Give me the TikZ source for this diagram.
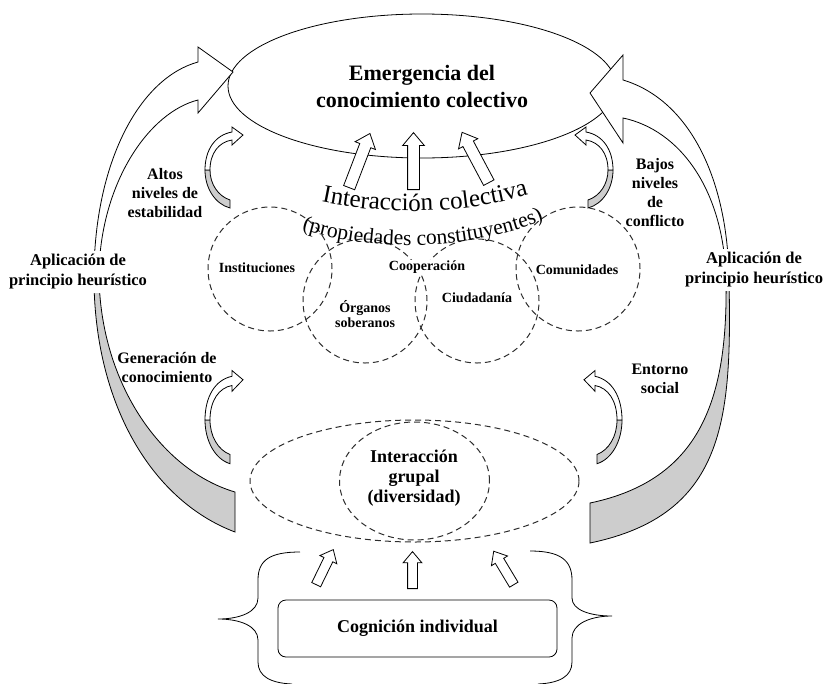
\documentclass[tikz,border=0pt]{standalone}
\usepackage{fontspec}
\setmainfont{Liberation Serif}
\usepackage{tikz}
\usetikzlibrary{shapes.geometric,shapes.arrows,decorations.text,positioning}
\definecolor{cBand}{RGB}{205,205,205}
\definecolor{cDash}{RGB}{45,45,45}
\tikzset{
  lbl/.style={font=\bfseries\fontsize{16}{19}\selectfont, align=center, inner sep=2pt},
  sml/.style={font=\bfseries\fontsize{14}{15.5}\selectfont, align=center, inner sep=1pt},
  big/.style={font=\bfseries\fontsize{18}{20}\selectfont, align=center},
  circ/.style={circle, draw=cDash, line width=1pt, dash pattern=on 6pt off 4pt,
               minimum size=124pt, inner sep=0pt},
  oval/.style={ellipse, draw=cDash, line width=1pt, dash pattern=on 6pt off 4pt,
               inner sep=0pt},
  hol/.style={single arrow, draw, fill=white, line width=0.8pt, inner xsep=0pt,
              inner ysep=5.5pt, single arrow head extend=5pt,
              single arrow tip angle=80, anchor=tail},
  bandw/.style={draw, fill=white, line width=0.8pt},
  bandg/.style={draw, fill=cBand, line width=0.8pt},
  loopar/.pic={
    % back half (grey)
    \path[bandg] (-5,38) .. controls (-20,34) and (-30,18) .. (-30,0)
      -- (-25,0) .. controls (-25,14) and (-17,26) .. (-5,30) -- cycle;
    % front half with head
    \path[bandw] (-30,0) .. controls (-30,-20) and (-20,-35) .. (-3,-38)
      -- (-3,-43) -- (8,-35) -- (-3,-25) -- (-3,-30)
      .. controls (-16,-28) and (-25,-17) .. (-25,0) -- cycle;
  },
}

\begin{document}
\begin{tikzpicture}[x=1pt, y=-1pt]
\useasboundingbox (0,0) rectangle (824,683);

% emergence
\node[ellipse, draw, line width=0.8pt, fill=white, minimum width=388pt, minimum height=144pt,
      font=\bfseries\fontsize{22}{27}\selectfont, align=center] (emer) at (422,86)
  {Emergencia del\\conocimiento colectivo};

% big side arrows
\path[bandw] (94,270) .. controls (96,160) and (140,78) .. (198,62) -- (198,47) -- (233,72)
  -- (198,113) -- (198,100) .. controls (150,112) and (102,180) .. (99,270) -- cycle;
\path[bandg] (94,270) .. controls (92,400) and (150,500) .. (235,532) -- (235,492)
  .. controls (160,470) and (98,380) .. (99,270) -- cycle;
\path[bandw] (729,280) .. controls (728,180) and (690,100) .. (623,80) -- (623,55) -- (590,93)
  -- (623,143) -- (623,118) .. controls (680,130) and (724,190) .. (726,280) -- cycle;
\path[bandg] (729,280) .. controls (732,420) and (725,515) .. (590,543) -- (590,503)
  .. controls (700,480) and (728,400) .. (726,280) -- cycle;
\node[lbl, fill=white, inner sep=4pt, font=\bfseries\fontsize{16.5}{20}\selectfont]
  (aplL) at (78,272) {Aplicación de\\principio heurístico};
\node[lbl, fill=white, inner sep=4pt, font=\bfseries\fontsize{16.5}{20}\selectfont]
  (aplR) at (754,270) {Aplicación de\\principio heurístico};

% collective level
\node[circ] (inst) at (270,269) {};
\node[circ] (org) at (365,301) {};
\node[circ] (ciu) at (477,301) {};
\node[circ] (com) at (578,269) {};
\node[sml] (tinst) at (257,268) {Instituciones};
\node[sml, fill=white] (tcoop) at (427,267) {Cooperación};
\node[sml] (torg) at (365,314) {Órganos\\soberanos};
\node[sml] (tciu) at (477,298) {Ciudadanía};
\node[sml] (tcom) at (577,270) {Comunidades};
\path[decorate, decoration={text along path, text align=center,
    text={|\fontsize{25}{25}\selectfont|Interacción colectiva}}]
  (322,202) .. controls (385,215) and (460,215) .. (528,195);
\path[decorate, decoration={text along path, text align=center,
    text={|\fontsize{21.5}{22}\selectfont|(propiedades constituyentes)}}]
  (285,224) .. controls (365,254) and (475,254) .. (560,213);

\node[hol, minimum height=58pt, rotate=69] (a1) at (349,188) {};
\node[hol, minimum height=57pt, rotate=90] (a2) at (413.5,190) {};
\node[hol, minimum height=57pt, rotate=118] (a3) at (489,183) {};

% feedback loops
\pic at (235,170) {loopar};
\pic[xscale=-1] at (583,170) {loopar};
\pic[yscale=1.15] at (235,420) {loopar};
\pic[xscale=-1, yscale=1.15] at (592,420) {loopar};
\node[lbl] (altos) at (165,193) {Altos\\niveles de\\estabilidad};
\node[lbl] (bajos) at (655,193) {Bajos\\niveles\\de\\conflicto};
\node[lbl] (gen) at (167,368) {Generación de\\conocimiento};
\node[lbl] (ent) at (660,379) {Entorno\\social};

% group level
\node[oval, minimum width=329pt, minimum height=122pt] (grp) at (414.5,481) {};
\node[oval, minimum width=150pt, minimum height=118pt] (div) at (414.5,481) {};
\node[big] (tdiv) at (414,478) {Interacción\\grupal\\(diversidad)};

\node[hol, minimum height=39pt, inner ysep=4.5pt, single arrow head extend=4.5pt,
      rotate=64] (b1) at (316,585) {};
\node[hol, minimum height=37pt, inner ysep=4.5pt, single arrow head extend=4.5pt,
      rotate=90] (b2) at (412.5,589) {};
\node[hol, minimum height=39pt, inner ysep=4.5pt, single arrow head extend=4.5pt,
      rotate=121] (b3) at (514,585) {};

% individual level
\node[big, draw, line width=0.8pt, rounded corners=8pt, minimum width=279pt,
      minimum height=57pt] (cog) at (417.5,628.5) {Cognición individual};
\draw[line width=0.8pt] (300,552) .. controls (270,552) and (258,560) .. (258,580)
  -- (258,598) .. controls (258,612) and (240,619) .. (218,619)
  .. controls (240,619) and (258,626) .. (258,640) -- (258,662)
  .. controls (258,676) and (270,683) .. (292,684);
\draw[line width=0.8pt] (530,551) .. controls (560,551) and (572,560) .. (572,580)
  -- (572,598) .. controls (572,610) and (590,616) .. (612,616)
  .. controls (590,616) and (572,624) .. (572,638) -- (572,662)
  .. controls (572,676) and (560,683) .. (538,684);
\end{tikzpicture}
\end{document}
